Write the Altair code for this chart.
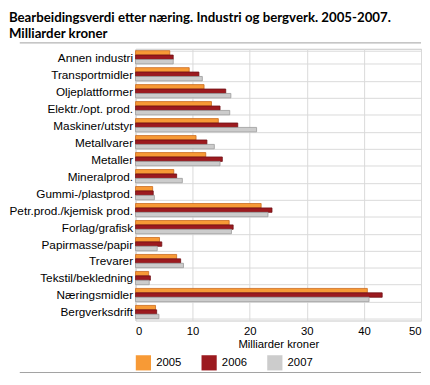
import altair as alt
import pandas as pd

categories = ["Annen industri", "Transportmidler", "Oljeplattformer", "Elektr./opt. prod.",
              "Maskiner/utstyr", "Metallvarer", "Metaller", "Mineralprod.",
              "Gummi-/plastprod.", "Petr.prod./kjemisk prod.", "Forlag/grafisk",
              "Papirmasse/papir", "Trevarer", "Tekstil/bekledning", "Næringsmidler",
              "Bergverksdrift"]
years = ["2005", "2006", "2007"]
v2005 = [6.0, 9.4, 12.0, 13.3, 14.5, 10.6, 12.3, 6.7, 3.0, 22.0, 16.4, 4.2, 7.2, 2.3, 40.6, 3.5]
v2006 = [6.6, 11.1, 15.8, 14.8, 17.9, 12.5, 15.2, 7.2, 3.1, 23.9, 17.1, 4.6, 7.9, 2.6, 43.2, 3.7]
v2007 = [6.6, 11.7, 16.7, 16.5, 21.2, 13.8, 14.8, 8.2, 3.3, 23.2, 16.8, 3.8, 8.4, 2.4, 40.9, 4.1]
colors = ["#F79A36", "#9C1A1F", "#CCCCCC"]
strokes = ["#C9691E", "#6E1014", "#9A9A9A"]

rows = []
for vals, yr in zip([v2005, v2006, v2007], years):
    for c, v in zip(categories, vals):
        rows.append({"kategori": c, "år": yr, "verdi": v})
df = pd.DataFrame(rows)
one = pd.DataFrame({"n": [0]})

FONT = "Liberation Sans"

bars = alt.Chart(df).mark_bar(strokeWidth=0.8).encode(
    y=alt.Y("kategori:N", sort=categories, title=None,
            scale=alt.Scale(paddingInner=0.22, paddingOuter=0.11),
            axis=alt.Axis(ticks=False, domain=False, tickBand="extent", grid=True,
                          gridColor="#D9D9D9", labelFontSize=12, labelColor="#000",
                          labelFont=FONT, labelPadding=3, labelLimit=200)),
    yOffset=alt.YOffset("år:N", sort=years, scale=alt.Scale(paddingInner=0, paddingOuter=0)),
    x=alt.X("verdi:Q", title="Milliarder kroner",
            scale=alt.Scale(domain=[0, 50]),
            axis=alt.Axis(values=[0, 10, 20, 30, 40, 50], ticks=False, domain=False,
                          gridColor="#D9D9D9", labelFontSize=11.5, labelColor="#000",
                          labelFont=FONT, titleFont=FONT, titleFontSize=11.5,
                          titleFontWeight="normal", titleColor="#000",
                          labelPadding=5, titlePadding=2)),
    color=alt.Color("år:N", sort=years, title=None,
                    scale=alt.Scale(domain=years, range=colors),
                    legend=alt.Legend(orient="bottom", direction="horizontal",
                                      symbolType="square", symbolSize=240,
                                      symbolStrokeWidth=0, labelFontSize=11.5,
                                      labelFont=FONT, labelColor="#000",
                                      labelOffset=5, columnPadding=20, offset=5)),
    stroke=alt.Stroke("år:N", sort=years, scale=alt.Scale(domain=years, range=strokes),
                      legend=None),
)

top_rule = alt.Chart(one).mark_rule(color="#A0A0A0", strokeWidth=1).encode(
    x=alt.value(-118), x2=alt.value("width"), y=alt.value(-6))
bottom_rule = alt.Chart(one).mark_rule(color="#A0A0A0", strokeWidth=1, yOffset=53).encode(
    x=alt.value(-118), x2=alt.value("width"), y=alt.value("height"))

chart = alt.layer(bars, top_rule, bottom_rule).properties(
    width=422, height=369,
    autosize=alt.AutoSizeParams(type="fit", contains="padding"),
    padding={"left": 0, "top": 0, "right": 0, "bottom": 0},
    title=alt.TitleParams(
        text=["Bearbeidingsverdi etter næring. Industri og bergverk. 2005-2007.",
              "Milliarder kroner"],
        anchor="start", frame="bounds", font="Lato", fontSize=13.5,
        fontWeight="bold", color="#000", lineHeight=16, offset=2),
).configure_view(stroke="#C8C8C8").configure_axis(gridColor="#D9D9D9")

chart.save("out.html", embed_options={"renderer": "svg", "actions": False})
